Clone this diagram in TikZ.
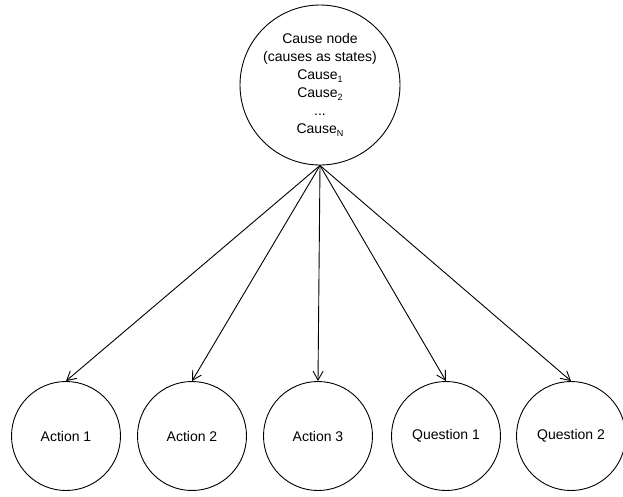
\documentclass[tikz,border=0pt]{standalone}
\usepackage{fontspec}
\setmainfont{Liberation Sans}
\usetikzlibrary{arrows.meta}
\newcommand{\lowsub}[1]{\raisebox{-0.45ex}{\fontsize{9}{9}\selectfont #1}}
\begin{document}
\begin{tikzpicture}[x=1pt,y=-1pt,
  every node/.style={font=\fontsize{14}{18}\selectfont},
  bigcirc/.style={draw,circle,line width=0.9pt,minimum size=160pt,inner sep=0pt,align=center},
  smallcirc/.style={draw,circle,line width=0.9pt,minimum size=109pt,inner sep=0pt},
  link/.style={line width=0.9pt,-{Straight Barb[length=9pt,width=10pt]}}]
\useasboundingbox (0,0) rectangle (623,496);
\node[bigcirc] (cause) at (320,85) {Cause node\\(causes as states)\\Cause\lowsub{1}\\Cause\lowsub{2}\\...\\Cause\lowsub{N}};
\node[smallcirc] (a1) at (66,436) {Action 1};
\node[smallcirc] (a2) at (192,436) {Action 2};
\node[smallcirc] (a3) at (318,436) {Action 3};
\node[smallcirc] (q1) at (446,436) {Question 1};
\node[smallcirc] (q2) at (571,436) {Question 2};
\foreach \t in {a1,a2,a3,q1,q2}
  \draw[link] (cause.south) -- (\t.north);
\end{tikzpicture}
\end{document}
